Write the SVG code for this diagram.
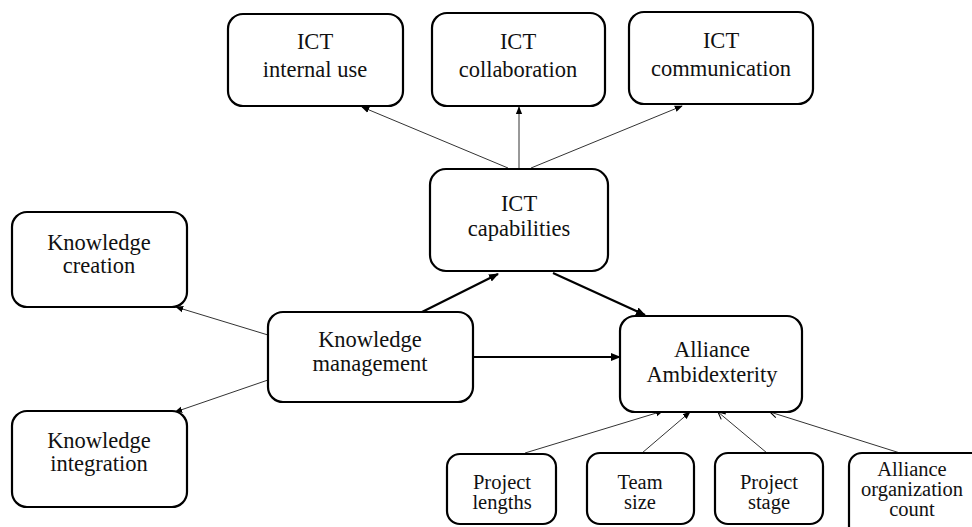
<svg xmlns="http://www.w3.org/2000/svg" width="972" height="527" viewBox="0 0 972 527">
<defs>
<style>
.box{fill:#fff;stroke:#000;stroke-width:2.2}
.t{font-family:"Liberation Serif","Times New Roman",serif;font-size:22.5px;fill:#111;text-anchor:middle}
.s{font-family:"Liberation Serif","Times New Roman",serif;font-size:20.5px;fill:#111;text-anchor:middle}
.thin{stroke:#333;stroke-width:1;fill:none}
.thick{stroke:#000;stroke-width:2.2;fill:none}
</style>
<marker id="ah" viewBox="0 0 10 10" refX="9" refY="5" markerWidth="8" markerHeight="8" markerUnits="userSpaceOnUse" orient="auto"><path d="M0,1 L10,5 L0,9 Z" fill="#000"/></marker>
<marker id="ahb" viewBox="0 0 10 10" refX="9" refY="5" markerWidth="10" markerHeight="10" markerUnits="userSpaceOnUse" orient="auto"><path d="M0,1 L10,5 L0,9 Z" fill="#000"/></marker>
<marker id="ao" viewBox="0 0 10 10" refX="9" refY="5" markerWidth="9" markerHeight="9" markerUnits="userSpaceOnUse" orient="auto"><path d="M1,1 L9,5 L1,9" fill="none" stroke="#000" stroke-width="1.2"/></marker>
</defs>
<rect width="972" height="527" fill="#fff"/>
<g id="connectors">
<line class="thin" x1="508" y1="168" x2="362" y2="107" marker-end="url(#ah)"/>
<line class="thin" x1="519" y1="168" x2="519" y2="107" marker-end="url(#ah)"/>
<line class="thin" x1="531" y1="168" x2="682" y2="106" marker-end="url(#ah)"/>
<line class="thick" x1="422" y1="312" x2="498" y2="274" marker-end="url(#ahb)"/>
<line class="thick" x1="553" y1="273" x2="645" y2="315" marker-end="url(#ahb)"/>
<line class="thick" x1="473" y1="357" x2="620" y2="357" marker-end="url(#ahb)"/>
<line class="thin" x1="268" y1="335" x2="176" y2="307" marker-end="url(#ah)"/>
<line class="thin" x1="268" y1="380" x2="175" y2="412" marker-end="url(#ah)"/>
<line class="thin" x1="525" y1="453" x2="663" y2="411" marker-end="url(#ah)"/>
<line class="thin" x1="642" y1="453" x2="690" y2="412" marker-end="url(#ah)"/>
<line class="thin" x1="767" y1="453" x2="718" y2="412" marker-end="url(#ao)"/>
<line class="thin" x1="900" y1="453" x2="770" y2="412" marker-end="url(#ao)"/>
</g>
<g id="ict-internal-use"><rect class="box" x="228" y="14" width="175" height="92" rx="15"/><text class="t" x="315" y="49">ICT</text><text class="t" x="315" y="77">internal use</text></g>
<g id="ict-collaboration"><rect class="box" x="432" y="13" width="173" height="93" rx="15"/><text class="t" x="518" y="49">ICT</text><text class="t" x="518" y="77">collaboration</text></g>
<g id="ict-communication"><rect class="box" x="629" y="12" width="184" height="92" rx="15"/><text class="t" x="721" y="48">ICT</text><text class="t" x="721" y="76">communication</text></g>
<g id="ict-capabilities"><rect class="box" x="430" y="169" width="178" height="102" rx="16"/><text class="t" x="519" y="211">ICT</text><text class="t" x="519" y="236">capabilities</text></g>
<g id="knowledge-creation"><rect class="box" x="12" y="212" width="175" height="95" rx="15"/><text class="t" x="99" y="250">Knowledge</text><text class="t" x="99" y="273">creation</text></g>
<g id="knowledge-management"><rect class="box" x="268" y="312" width="205" height="90" rx="15"/><text class="t" x="370" y="347">Knowledge</text><text class="t" x="370" y="371">management</text></g>
<g id="knowledge-integration"><rect class="box" x="12" y="411" width="175" height="96" rx="15"/><text class="t" x="99" y="448">Knowledge</text><text class="t" x="99" y="471">integration</text></g>
<g id="alliance-ambidexterity"><rect class="box" x="620" y="316" width="182" height="96" rx="15"/><text class="t" x="712" y="357">Alliance</text><text class="t" x="712" y="382">Ambidexterity</text></g>
<g id="project-lengths"><rect class="box" x="447" y="454" width="109" height="70" rx="13"/><text class="s" x="502" y="489">Project</text><text class="s" x="502" y="509">lengths</text></g>
<g id="team-size"><rect class="box" x="587" y="453" width="107" height="71" rx="13"/><text class="s" x="640" y="489">Team</text><text class="s" x="640" y="509">size</text></g>
<g id="project-stage"><rect class="box" x="715" y="453" width="108" height="71" rx="13"/><text class="s" x="769" y="489">Project</text><text class="s" x="769" y="509">stage</text></g>
<g id="alliance-organization-count"><rect class="box" x="849" y="453" width="140" height="90" rx="13"/><text class="s" x="912" y="476">Alliance</text><text class="s" x="912" y="496">organization</text><text class="s" x="912" y="516">count</text></g>
</svg>
